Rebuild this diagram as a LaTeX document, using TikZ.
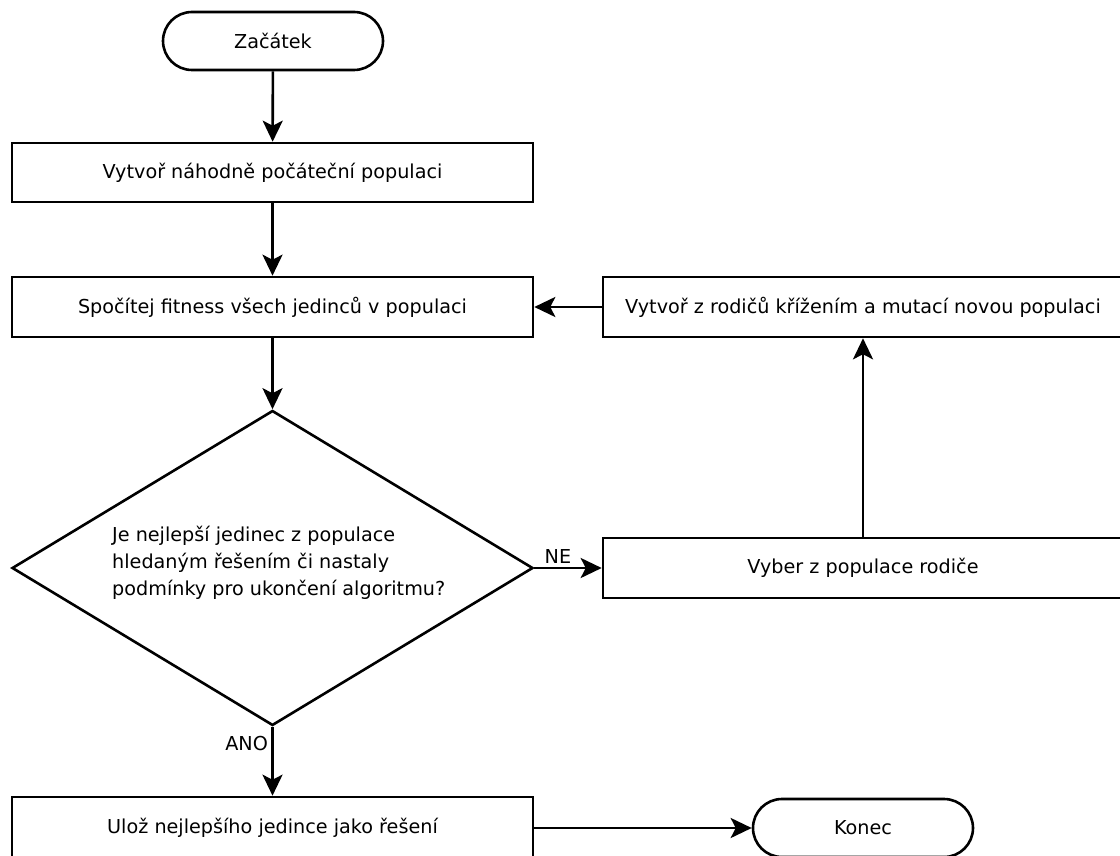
\documentclass[tikz,border=0pt]{standalone}
\usepackage{fontspec}
\setmainfont{DejaVu Sans}
\usetikzlibrary{shapes.geometric,arrows.meta}
\begin{document}
\begin{tikzpicture}[x=1pt,y=-1pt,
  txt/.style={font=\fontsize{19.2}{27}\selectfont},
  box/.style={draw, line width=2.6pt, minimum width=521pt, minimum height=60pt, inner sep=0pt, txt},
  term/.style={draw, line width=2.6pt, rounded corners=29pt, minimum width=220pt, minimum height=58pt, inner sep=0pt, txt},
  arr/.style={line width=2.6pt, -{Stealth[length=21pt,width=20pt,inset=5pt]}},
]
\useasboundingbox (0,0) rectangle (1120,856);
\clip (0,0) rectangle (1120,856);
\node[term] (start) at (273,41) {Začátek};
\node[box, minimum height=59pt] (init) at (272.5,172.5) {Vytvoř náhodně počáteční populaci};
\node[box] (fit) at (272.5,307) {Spočítej fitness všech jedinců v populaci};
\node[box, minimum width=520pt] (new) at (863,307) {Vytvoř z rodičů křížením a mutací novou populaci};
\node[diamond, draw, line width=2.6pt, minimum width=521pt, minimum height=315pt, inner sep=0pt] (dec) at (272.5,568) {};
\node[txt, align=left, inner sep=0pt, anchor=west] (q) at (112,563) {Je nejlepší jedinec z populace\\hledaným řešením či nastaly\\podmínky pro ukončení algoritmu?};
\node[box, minimum width=520pt] (sel) at (863,568) {Vyber z populace rodiče};
\node[box, minimum height=62pt] (save) at (272.5,828) {Ulož nejlepšího jedince jako řešení};
\node[term] (end) at (863,828) {Konec};
\draw[arr] (start) -- (init);
\draw[arr] (init) -- (fit);
\draw[arr] (fit) -- (dec);
\draw[arr] (new) -- (fit);
\draw[arr] (dec) -- node[txt, above, pos=0.35] {NE} (sel);
\draw[arr] (sel) -- (new);
\draw[arr] (dec) -- node[txt, left, pos=0.24] {ANO} (save);
\draw[arr] (save) -- (end);
\end{tikzpicture}
\end{document}
